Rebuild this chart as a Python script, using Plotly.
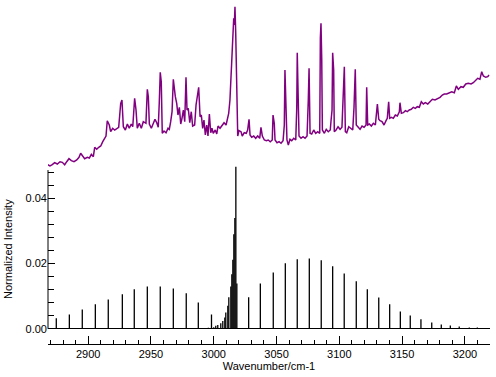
import plotly.graph_objects as go

# Calculated stick spectrum (wavenumber / cm-1, normalized intensity)
stick_wn = [2874.6, 2885.0, 2895.3, 2905.7, 2916.0, 2927.2, 2936.7, 2947.1, 2957.4, 2967.8,
            2978.1, 2987.7, 2995.7, 2998.2,
            3000.0, 3001.6, 3003.2, 3005.6, 3007.2, 3008.8, 3009.6, 3011.2, 3012.0, 3013.6,
            3014.4, 3015.2, 3016.0, 3016.8, 3017.6, 3018.4,
            3027.8, 3037.1, 3047.4, 3057.0, 3066.5, 3076.1, 3085.6, 3094.7, 3103.9, 3113.5,
            3122.3, 3131.4, 3140.1, 3148.6, 3156.5, 3165.0, 3173.6, 3181.2, 3188.4, 3195.5,
            3203.5, 3209.9]
stick_int = [0.0032, 0.0044, 0.0059, 0.0075, 0.0090, 0.0106, 0.0121, 0.0130, 0.0130, 0.0124,
             0.0109, 0.0081, 0.0003, 0.0044,
             0.0005, 0.0009, 0.0012, 0.0017, 0.0024, 0.0035, 0.0050, 0.0071, 0.0097, 0.0130,
             0.0167, 0.0212, 0.0290, 0.0340, 0.0497, 0.0139,
             0.0097, 0.0139, 0.0173, 0.0201, 0.0213, 0.0216, 0.0210, 0.0192, 0.0170, 0.0146,
             0.0121, 0.0096, 0.0075, 0.0053, 0.0041, 0.0029, 0.0019, 0.0013, 0.0010, 0.0007,
             0.0004, 0.0004]

# Measured spectrum (wavenumber / cm-1, arbitrary absorbance)
exp_wn = [2867.4, 2869.6, 2871.4, 2873.3, 2875.4, 2877.6, 2879.4, 2881.3, 2882.9, 2884.7,
          2886.6, 2888.7, 2890.9, 2892.7, 2894.0, 2895.6, 2897.2, 2899.3, 2900.9, 2902.5,
          2904.1, 2905.2, 2906.8, 2908.4, 2910.0, 2911.6, 2913.2, 2914.2, 2915.2, 2916.8,
          2917.9, 2919.5, 2921.1, 2922.7, 2924.3, 2925.9, 2926.9, 2928.0, 2929.6, 2931.2,
          2932.7, 2934.3, 2935.5, 2937.0, 2938.1, 2939.1, 2940.7, 2942.3, 2943.9, 2946.0,
          2947.1, 2947.9, 2948.7, 2950.3, 2951.9, 2953.2, 2954.6, 2955.8, 2956.6, 2957.4,
          2958.2, 2959.0, 2960.4, 2962.0, 2963.6, 2964.6, 2965.7, 2966.8, 2967.8, 2968.6,
          2969.4, 2970.5, 2971.5, 2972.6, 2973.7, 2974.7, 2975.8, 2976.9, 2977.9, 2978.7,
          2979.7, 2980.9, 2982.1, 2983.2, 2984.8, 2985.9, 2986.9, 2988.0, 2989.1, 2990.1,
          2991.2, 2992.2, 2993.3, 2994.4, 2995.4, 2996.5, 2997.6, 2998.6, 2999.6, 3001.2,
          3002.4, 3003.4, 3005.0, 3006.6, 3008.2, 3009.8, 3010.8, 3011.9, 3012.9, 3013.7,
          3014.5, 3015.3, 3015.9, 3016.4, 3016.9, 3017.5, 3018.3, 3019.1, 3020.1, 3021.7,
          3022.7, 3024.3, 3025.9, 3027.0, 3028.1, 3028.9, 3030.2, 3031.8, 3033.4, 3035.0,
          3036.6, 3037.6, 3038.7, 3040.3, 3041.9, 3043.4, 3045.0, 3046.6, 3047.2, 3048.2,
          3048.8, 3050.4, 3052.0, 3053.6, 3055.2, 3056.2, 3056.7, 3057.5, 3058.3, 3059.4,
          3060.7, 3062.1, 3063.7, 3065.3, 3066.1, 3066.5, 3067.1, 3067.9, 3069.5, 3071.1,
          3072.7, 3074.3, 3075.3, 3075.9, 3076.7, 3078.0, 3079.6, 3081.2, 3082.8, 3084.4,
          3084.9, 3085.4, 3086.0, 3086.5, 3088.1, 3089.6, 3091.2, 3092.8, 3093.4, 3094.2,
          3094.7, 3095.5, 3096.0, 3097.4, 3099.0, 3100.6, 3102.1, 3103.2, 3104.0, 3104.8,
          3105.9, 3107.5, 3109.1, 3110.7, 3111.7, 3112.7, 3113.5, 3114.9, 3116.5, 3118.1,
          3119.7, 3121.3, 3121.8, 3122.6, 3123.9, 3125.5, 3127.1, 3128.7, 3130.3, 3131.4,
          3132.4, 3134.0, 3135.6, 3137.2, 3138.2, 3139.3, 3140.1, 3141.4, 3143.0, 3144.6,
          3146.2, 3147.8, 3148.3, 3149.4, 3151.0, 3152.6, 3154.1, 3155.7, 3157.3, 3158.9,
          3160.5, 3162.1, 3163.7, 3165.3, 3166.9, 3168.5, 3170.4, 3172.2, 3174.1, 3176.2,
          3178.4, 3180.2, 3182.0, 3183.6, 3185.5, 3187.4, 3189.5, 3191.6, 3193.2, 3194.8,
          3196.9, 3198.7, 3200.7, 3202.7, 3204.9, 3206.7, 3208.6, 3210.2, 3212.0, 3213.4,
          3214.7, 3216.6, 3218.2, 3219.2]
exp_abs = [0.057, 0.040, 0.053, 0.073, 0.060, 0.083, 0.077, 0.053, 0.083, 0.113,
           0.093, 0.083, 0.100, 0.127, 0.167, 0.140, 0.113, 0.127, 0.120, 0.157,
           0.133, 0.227, 0.207, 0.227, 0.240, 0.283, 0.317, 0.340, 0.493, 0.450,
           0.383, 0.417, 0.400, 0.413, 0.427, 0.667, 0.700, 0.433, 0.400, 0.460,
           0.417, 0.460, 0.433, 0.717, 0.600, 0.417, 0.467, 0.417, 0.483, 0.467,
           0.807, 0.733, 0.460, 0.417, 0.473, 0.507, 0.473, 0.427, 0.667, 0.977,
           0.883, 0.367, 0.390, 0.373, 0.417, 0.407, 0.483, 0.583, 0.907, 0.807,
           0.733, 0.667, 0.550, 0.627, 0.460, 0.517, 0.600, 0.483, 0.927, 0.600,
           0.617, 0.473, 0.583, 0.440, 0.450, 0.650, 0.750, 0.827, 0.533, 0.550,
           0.417, 0.500, 0.350, 0.450, 0.340, 0.560, 0.373, 0.417, 0.367, 0.400,
           0.360, 0.440, 0.417, 0.450, 0.473, 0.450, 0.500, 0.567, 0.700, 0.917,
           1.067, 1.400, 1.517, 1.450, 1.633, 1.367, 0.567, 0.340, 0.393, 0.383,
           0.340, 0.373, 0.367, 0.400, 0.507, 0.350, 0.327, 0.340, 0.317, 0.340,
           0.317, 0.427, 0.340, 0.300, 0.293, 0.300, 0.283, 0.300, 0.550, 0.467,
           0.300, 0.273, 0.283, 0.267, 0.293, 0.450, 1.000, 0.660, 0.300, 0.250,
           0.307, 0.293, 0.317, 0.300, 0.617, 1.173, 0.827, 0.340, 0.317, 0.333,
           0.317, 0.340, 0.700, 1.017, 0.367, 0.360, 0.400, 0.367, 0.383, 0.367,
           1.317, 1.467, 1.100, 0.400, 0.367, 0.407, 0.383, 0.400, 0.493, 0.600,
           1.173, 1.000, 0.383, 0.400, 0.433, 0.407, 0.427, 0.900, 1.033, 0.383,
           0.373, 0.433, 0.417, 0.400, 0.627, 1.007, 0.450, 0.433, 0.407, 0.440,
           0.427, 0.450, 0.827, 0.450, 0.460, 0.440, 0.467, 0.450, 0.660, 0.507,
           0.493, 0.483, 0.450, 0.493, 0.517, 0.683, 0.517, 0.527, 0.517, 0.550,
           0.540, 0.583, 0.673, 0.567, 0.573, 0.593, 0.583, 0.600, 0.607, 0.627,
           0.617, 0.633, 0.627, 0.683, 0.660, 0.673, 0.660, 0.683, 0.707, 0.700,
           0.717, 0.727, 0.750, 0.760, 0.760, 0.773, 0.783, 0.773, 0.840, 0.807,
           0.833, 0.827, 0.860, 0.867, 0.860, 0.873, 0.893, 0.917, 0.907, 0.983,
           0.940, 0.927, 0.933, 0.950]

x_range = [2868, 3220]
y_range = [-0.0002, 0.0505]
axis_top = 0.0487

# build stick segments from the arrays
sx, sy = [], []
for w, h in zip(stick_wn, stick_int):
    sx += [w, w, None]
    sy += [0, h, None]

FONT = "Arial, 'Liberation Sans', sans-serif"

fig = go.Figure()
fig.add_trace(go.Scatter(x=exp_wn, y=exp_abs, mode="lines", yaxis="y2",
                         line=dict(color="#800080", width=1.5), hoverinfo="skip",
                         showlegend=False))
fig.add_trace(go.Scatter(x=sx, y=sy, mode="lines", yaxis="y",
                         line=dict(color="black", width=1.3), hoverinfo="skip",
                         showlegend=False))

H = 377
plot_h = 344
left = 48
plot_w = 496 - left - 6
fig.update_layout(
    width=496, height=H,
    margin=dict(l=left, r=6, t=0, b=H - plot_h),
    paper_bgcolor="white", plot_bgcolor="rgba(0,0,0,0)",
    font=dict(family=FONT, size=11, color="black"),
    showlegend=False,
    xaxis=dict(range=x_range, anchor="free", position=0, showline=True,
               linecolor="black", linewidth=1, mirror=False, automargin=False,
               ticks="inside", ticklen=8, tickwidth=1, tickcolor="black",
               tick0=2900, dtick=50, showgrid=False, zeroline=False,
               tickfont=dict(size=11),
               minor=dict(dtick=10, ticks="inside", ticklen=4, tickcolor="black", showgrid=False),
               title=dict(text="Wavenumber/cm-1", font=dict(size=11), standoff=0)),
    yaxis=dict(range=y_range, domain=[(plot_h - 329.45) / plot_h, (plot_h - 164.2) / plot_h],
               anchor="x", showline=False, ticks="inside", ticklen=7, tickwidth=1,
               tickcolor="black", tick0=0, dtick=0.02, tickformat=".2f", automargin=False,
               showgrid=False, zeroline=True, zerolinecolor="black", zerolinewidth=1,
               tickfont=dict(size=11),
               minor=dict(dtick=0.004, ticks="inside", ticklen=6, tickcolor="black", showgrid=False)),
    yaxis2=dict(domain=[0, 1], range=[-1.74, 1.70], anchor="x", visible=False,
                showgrid=False, zeroline=False, automargin=False),
    shapes=[dict(type="line", xref="paper", yref="y", x0=0, x1=0, y0=0, y1=axis_top,
                 line=dict(color="black", width=1))],
    annotations=[dict(text="Normalized Intensity", textangle=-90, showarrow=False,
                      xref="paper", yref="paper", x=(8 - left) / plot_w,
                      y=(plot_h - 249) / plot_h, xanchor="center", yanchor="middle",
                      font=dict(size=11))],
)

fig.write_html("out.html", config={"displayModeBar": False},
               post_script="document.body.style.margin='0';")
